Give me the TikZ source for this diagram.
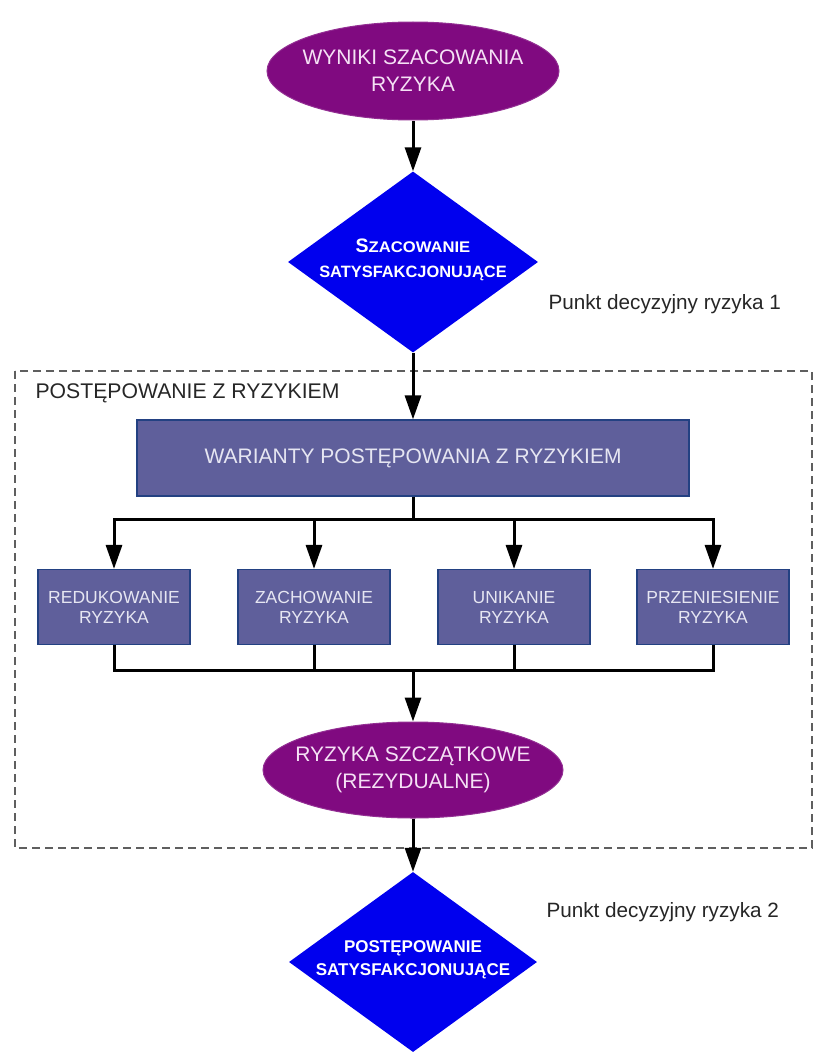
\documentclass[tikz,border=0pt]{standalone}
\usepackage{fontspec}
\setmainfont{Liberation Sans}
\usetikzlibrary{shapes.geometric,arrows.meta}
\definecolor{purp}{RGB}{128,10,128}
\definecolor{dblue}{RGB}{0,0,238}
\definecolor{boxfill}{RGB}{95,95,155}
\definecolor{boxline}{RGB}{35,65,130}
\definecolor{framec}{RGB}{95,95,95}
\definecolor{ptext}{RGB}{245,225,245}
\definecolor{btext}{RGB}{230,230,242}
\begin{document}
\begin{tikzpicture}[x=1pt,y=-1pt,
  ellshape/.style={ellipse,fill=purp,draw=purp!85!white,line width=1pt,inner sep=0pt},
  ellfont/.style={text=ptext,align=center,font=\fontsize{21}{27}\selectfont},
  diashape/.style={diamond,fill=dblue,inner sep=0pt},
  diafont/.style={text=white,align=center,inner sep=0pt},
  bigbox/.style={rectangle,fill=boxfill,draw=boxline,line width=1.2pt,minimum width=552pt,minimum height=76pt,text=btext,font=\fontsize{21}{27}\selectfont},
  smallbox/.style={rectangle,fill=boxfill,draw=boxline,line width=1.2pt,minimum width=152pt,minimum height=75pt,text=btext,align=center,font=\fontsize{17.5}{20}\selectfont},
  note/.style={anchor=west,font=\fontsize{20.7}{24}\selectfont,text=black!85},
  arr/.style={line width=3pt,-{Triangle[length=24pt,width=16pt]}},
  ln/.style={line width=3pt},
  frm/.style={draw=framec,line width=1.2pt,dash pattern=on 8pt off 5pt},
]
\useasboundingbox (0,0) rectangle (828,1057);
% frame
\draw[frm] (15,371) rectangle (812,848);
\node[anchor=west,font=\fontsize{21.2}{25}\selectfont,text=black!85] (title) at (32,393) {POSTĘPOWANIE Z RYZYKIEM};
% top ellipse
\node[ellshape,minimum width=292pt,minimum height=98pt] (res) at (413,71) {};
\node[ellfont] (restxt) at (res) {WYNIKI SZACOWANIA\\RYZYKA};
% diamond 1
\node[diashape,minimum width=250pt,minimum height=181pt] (d1) at (413,262) {};
\node[diafont,font=\fontsize{16.4}{25}\selectfont\bfseries] (d1txt) at (413,259.5) {{\fontsize{19.5}{25}\selectfont S}{\fontsize{15.4}{25}\selectfont\scalebox{1.08}[1]{ZACOWANIE}}\\SATYSFAKCJONUJĄCE};
\node[note] (p1) at (545,304) {Punkt decyzyjny ryzyka 1};
% big box
\node[bigbox] (war) at (413,458) {WARIANTY POSTĘPOWANIA Z RYZYKIEM};
\coordinate (split) at (413,519);
% small boxes
\node[smallbox] (r1) at (114,607) {REDUKOWANIE\\RYZYKA};
\node[smallbox] (r2) at (314,607) {ZACHOWANIE\\RYZYKA};
\node[smallbox] (r3) at (514,607) {UNIKANIE\\RYZYKA};
\node[smallbox] (r4) at (713,607) {PRZENIESIENIE\\RYZYKA};
\coordinate (join) at (413,670);
% residual ellipse
\node[ellshape,minimum width=300pt,minimum height=96pt] (res2) at (413,770) {};
\node[ellfont] (res2txt) at (res2) {RYZYKA SZCZĄTKOWE\\(REZYDUALNE)};
% diamond 2
\node[diashape,minimum width=248pt,minimum height=180pt] (d2) at (413,962) {};
\node[diafont,font=\fontsize{17}{23}\selectfont\bfseries] (d2txt) at (413,959.5) {POSTĘPOWANIE\\SATYSFAKCJONUJĄCE};
\node[note] (p2) at (543,912) {Punkt decyzyjny ryzyka 2};
% connectors
\draw[arr] (res.south) -- (d1.north);
\draw[arr] (d1.south) -- (war.north);
\draw[ln] (war.south) -- (split);
\draw[ln,line cap=rect] (r1 |- split) -- (r4 |- split);
\foreach \n in {r1,r2,r3,r4} {
  \draw[arr] (\n |- split) -- (\n.north);
  \draw[ln] (\n.south) -- (\n |- join);
}
\draw[ln,line cap=rect] (r1 |- join) -- (r4 |- join);
\draw[arr] (join) -- (res2.north);
\draw[arr] (res2.south) -- (d2.north);
\end{tikzpicture}
\end{document}
